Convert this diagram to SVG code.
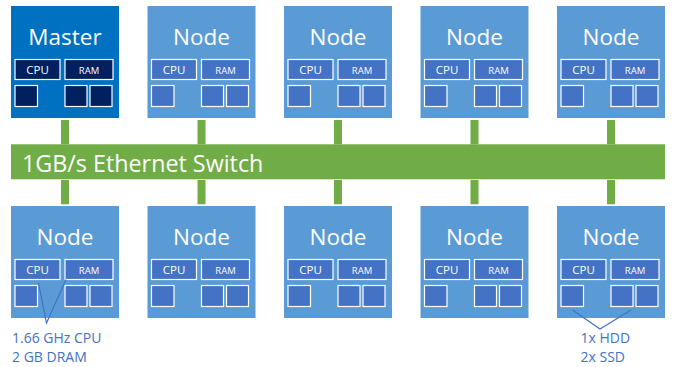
<svg xmlns="http://www.w3.org/2000/svg" width="673" height="367" viewBox="0 0 673 367">
<style>
.node{fill:#5B9BD5}
.master{fill:#0070C0}
.in{fill:#4472C4;stroke:#FFFFFF;stroke-width:1.2}
.min{fill:#002060;stroke:#FFFFFF;stroke-width:1.2}
.title{font-family:"Open Sans","Noto Sans",sans-serif;font-size:22.5px;fill:#FFFFFF;text-anchor:middle}
.cpu{font-family:"Open Sans","Noto Sans",sans-serif;font-size:11.5px;fill:#FFFFFF;text-anchor:middle}
.ram{font-family:"Open Sans","Noto Sans",sans-serif;font-size:9.5px;fill:#FFFFFF;text-anchor:middle}
.conn{fill:#70AD47}
.note{font-family:"Open Sans","Noto Sans",sans-serif;font-size:14px;fill:#4472C4}
.ln{stroke:#4472C4;stroke-width:1.2;fill:none}
</style>
<defs>
<g id="nodeInner">
<rect class="in" x="4" y="53.5" width="45" height="20"/>
<rect class="in" x="54" y="53.5" width="48" height="20"/>
<rect class="in" x="4" y="79.5" width="22.5" height="21"/>
<rect class="in" x="54" y="79.5" width="22" height="21"/>
<rect class="in" x="79" y="79.5" width="22" height="21"/>
<text class="cpu" x="26.5" y="68">CPU</text>
<text class="ram" x="78" y="67.5">RAM</text>
</g>
<g id="node">
<rect class="node" x="0" y="0" width="108" height="112"/>
<text class="title" x="54" y="39">Node</text>
<use href="#nodeInner"/>
</g>
</defs>

<g id="connectors">
<rect class="conn" x="11" y="144.3" width="654" height="35"/>
<text x="22" y="172" font-family="'Open Sans','Noto Sans',sans-serif" font-size="23.3px" fill="#FFFFFF">1GB/s Ethernet Switch</text>
<rect class="conn" x="61" y="120" width="8" height="24.3"/>
<rect class="conn" x="197.5" y="120" width="8" height="24.3"/>
<rect class="conn" x="334" y="120" width="8" height="24.3"/>
<rect class="conn" x="470.5" y="120" width="8" height="24.3"/>
<rect class="conn" x="607" y="120" width="8" height="24.3"/>
<rect class="conn" x="61" y="180" width="8" height="24.3"/>
<rect class="conn" x="197.5" y="180" width="8" height="24.3"/>
<rect class="conn" x="334" y="180" width="8" height="24.3"/>
<rect class="conn" x="470.5" y="180" width="8" height="24.3"/>
<rect class="conn" x="607" y="180" width="8" height="24.3"/>
</g>

<g id="master" transform="translate(11,6)">
<rect class="master" x="0" y="0" width="108" height="112"/>
<text class="title" x="54" y="39">Master</text>
<rect class="min" x="4" y="53.5" width="45" height="20"/>
<rect class="min" x="54" y="53.5" width="48" height="20"/>
<rect class="min" x="4" y="79.5" width="22.5" height="21"/>
<rect class="min" x="54" y="79.5" width="22" height="21"/>
<rect class="min" x="79" y="79.5" width="22" height="21"/>
<text class="cpu" x="26.5" y="68">CPU</text>
<text class="ram" x="78" y="67.5">RAM</text>
</g>
<g id="node-t2" transform="translate(147.5,6)"><use href="#node"/></g>
<g id="node-t3" transform="translate(284,6)"><use href="#node"/></g>
<g id="node-t4" transform="translate(420.5,6)"><use href="#node"/></g>
<g id="node-t5" transform="translate(557,6)"><use href="#node"/></g>
<g id="node-b1" transform="translate(11,206)"><use href="#node"/></g>
<g id="node-b2" transform="translate(147.5,206)"><use href="#node"/></g>
<g id="node-b3" transform="translate(284,206)"><use href="#node"/></g>
<g id="node-b4" transform="translate(420.5,206)"><use href="#node"/></g>
<g id="node-b5" transform="translate(557,206)"><use href="#node"/></g>

<g id="note-left">
<polyline class="ln" points="38.5,283 46.5,323 66,279.5"/>
<text class="note" x="12" y="342.5">1.66 GHz CPU</text>
<text class="note" x="12" y="361.5">2 GB DRAM</text>
</g>
<g id="note-right">
<polyline class="ln" points="572.5,310 600,329 631,310"/>
<text class="note" x="580.5" y="342.5">1x HDD</text>
<text class="note" x="580.5" y="361.5">2x SSD</text>
</g>
</svg>
